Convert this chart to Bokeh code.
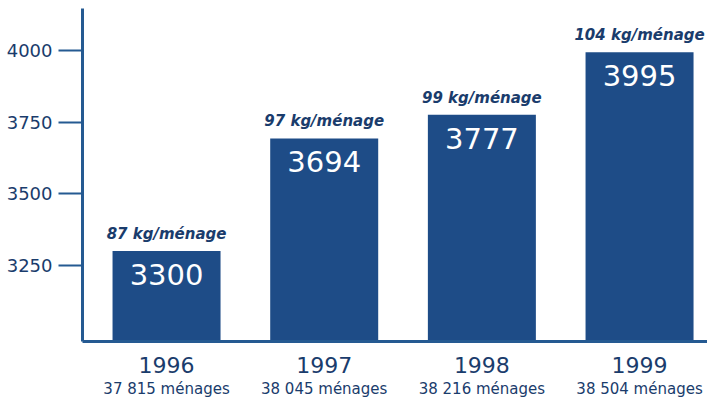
from bokeh.plotting import figure
from bokeh.models import Range1d, LinearAxis, FixedTicker, ColumnDataSource
from bokeh.core.properties import value
from bokeh.embed import file_html
from bokeh.resources import INLINE

years = ["1996", "1997", "1998", "1999"]
tonnes = [3300, 3694, 3777, 3995]
per_menage = ["87 kg/ménage", "97 kg/ménage", "99 kg/ménage", "104 kg/ménage"]
menages = ["37 815 ménages", "38 045 ménages", "38 216 ménages", "38 504 ménages"]
y_ticks = [3250, 3500, 3750, 4000]

NAVY = "#1a3c6c"
BAR = "#1e4c87"
AXIS = "#255a92"

Y0, Y1 = 2984, 4148
xs = list(range(len(years)))
src = ColumnDataSource(dict(x=xs, top=tonnes, val=[str(v) for v in tonnes], kg=per_menage))

p = figure(width=707, height=400, x_range=Range1d(-0.533, 3.431), y_range=Range1d(Y0, Y1),
           output_backend="svg", toolbar_location=None,
           x_axis_location=None, y_axis_location=None,
           min_border_left=82, min_border_right=0, min_border_top=8, min_border_bottom=59)
p.outline_line_color = None
p.grid.visible = False
p.background_fill_color = "white"
p.border_fill_color = "white"

p.vbar(x="x", top="top", bottom=Y0, width=0.685, source=src, fill_color=BAR, line_color=None)

p.text(x="x", y="top", text="val", source=src, text_align="center", text_baseline="top",
       y_offset=13, text_color="white", text_font=value("DejaVu Sans"), text_font_size="29px")
p.text(x="x", y="top", text="kg", source=src, text_align="center", text_baseline="bottom",
       y_offset=-8, text_color=NAVY, text_font=value("DejaVu Sans"), text_font_size="15px",
       text_font_style="bold italic")

yaxis = LinearAxis(ticker=FixedTicker(ticks=y_ticks), axis_line_color=AXIS, axis_line_width=3,
                   major_tick_out=24, major_tick_in=0, major_tick_line_color=AXIS,
                   major_tick_line_width=2, minor_tick_line_color=None, major_label_standoff=6,
                   major_label_text_font="DejaVu Sans", major_label_text_font_size="18px",
                   major_label_text_color=NAVY)
p.add_layout(yaxis, "left")

xaxis = LinearAxis(ticker=FixedTicker(ticks=xs), major_label_overrides={i: t for i, t in zip(xs, years)},
                   axis_line_color=AXIS, axis_line_width=3, major_tick_line_color=None,
                   major_tick_out=0, major_tick_in=0, minor_tick_line_color=None,
                   major_label_standoff=15, major_label_text_font="DejaVu Sans",
                   major_label_text_font_size="22px", major_label_text_color=NAVY)
p.add_layout(xaxis, "below")

xaxis2 = LinearAxis(ticker=FixedTicker(ticks=xs), major_label_overrides={i: t for i, t in zip(xs, menages)},
                    axis_line_color=None, major_tick_line_color=None,
                    major_tick_out=0, major_tick_in=0, minor_tick_line_color=None,
                    major_label_standoff=4, major_label_text_font="DejaVu Sans",
                    major_label_text_font_size="15px", major_label_text_color=NAVY)
p.add_layout(xaxis2, "below")

open("out.html", "w").write(file_html(p, INLINE))
